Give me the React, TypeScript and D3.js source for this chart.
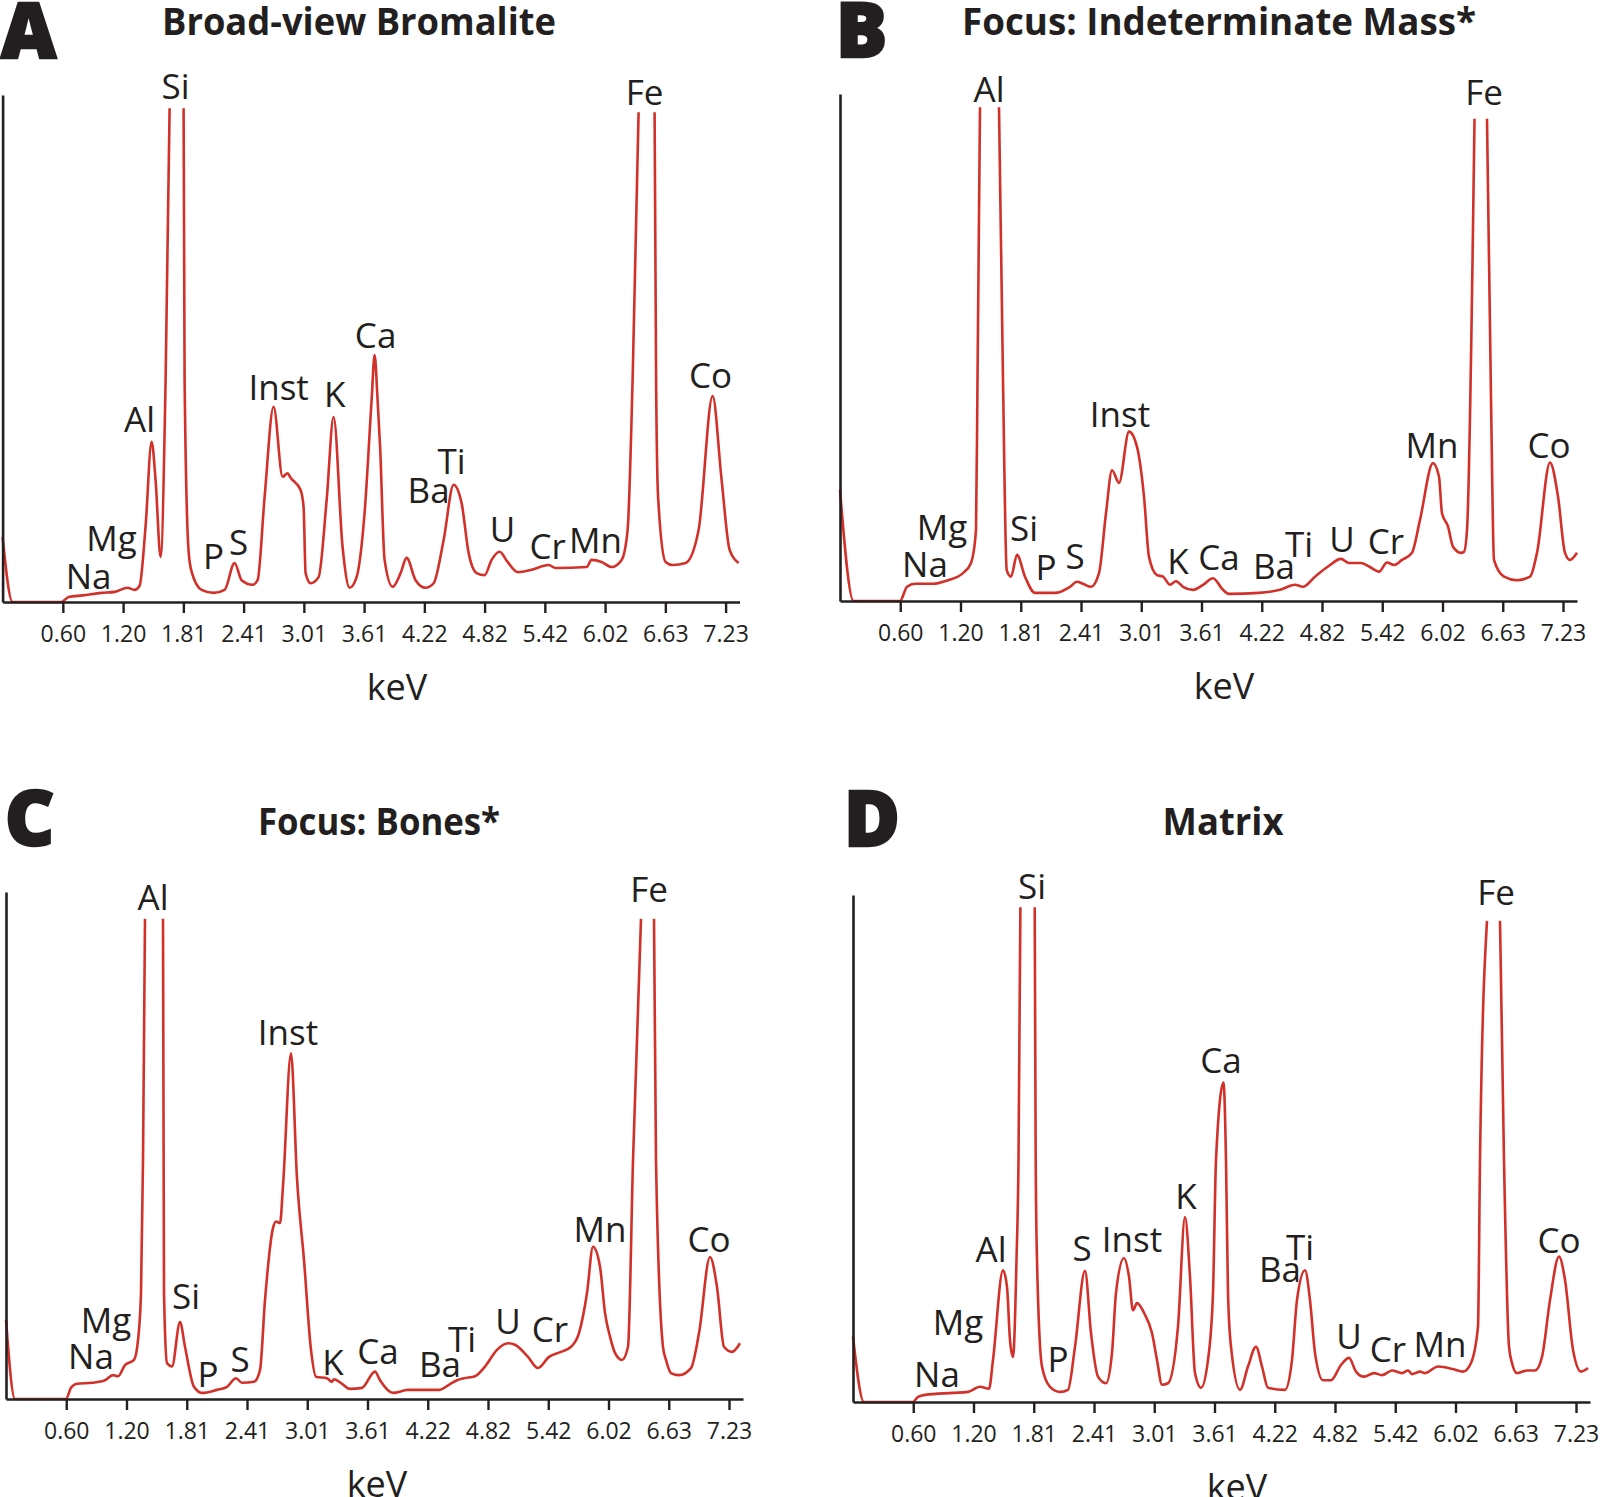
import React, { useEffect, useRef } from 'react';
import * as d3 from 'd3';

type Pt = [number, number | null];
type Label = [string, number, number];

// spectra: [keV, relative intensity (100 = top of y axis)], null = clipped peak top
const spectrumA: Pt[] = [
  [0, 12.8], [0.10, 0], [0.59, 0], [0.66, 1.0], [0.80, 1.3], [0.99, 1.8], [1.12, 2.0], [1.25, 2.8],
  [1.32, 2.4], [1.37, 3.2], [1.43, 15], [1.49, 31.6], [1.53, 24], [1.58, 8.9], [1.63, 43.8], [1.67, 97.4],
  [1.74, null], [1.81, 97.4], [1.82, 43.8], [1.86, 10], [1.89, 6.0], [1.99, 2.4], [2.11, 1.8], [2.22, 2.4],
  [2.32, 7.7], [2.39, 4.3], [2.50, 3.4], [2.55, 4.3], [2.62, 20.7], [2.71, 38.5], [2.80, 24.7], [2.85, 25.4],
  [2.88, 24.5], [2.98, 22.1], [3.01, 18.7], [3.03, 5.7], [3.08, 3.7], [3.16, 4.9], [3.24, 20], [3.31, 36.5],
  [3.40, 10.8], [3.47, 2.8], [3.54, 4.9], [3.62, 17.6], [3.69, 39.8], [3.72, 48.7], [3.75, 39.8], [3.775, 30.6],
  [3.82, 8.3], [3.90, 3.0], [3.98, 5.7], [4.04, 8.7], [4.13, 4.3], [4.23, 2.8], [4.31, 3.7], [4.41, 12.2],
  [4.51, 23.1], [4.59, 19.5], [4.66, 9.7], [4.74, 5.7], [4.82, 5.3], [4.89, 8.3], [4.97, 9.9], [5.05, 7.9],
  [5.15, 5.9], [5.28, 6.3], [5.46, 7.3], [5.53, 6.7], [5.84, 6.9], [5.89, 8.3], [5.99, 7.9], [6.09, 6.9],
  [6.19, 8.3], [6.25, 14.2], [6.30, 43.8], [6.36, 96.6], [6.44, null], [6.52, 96.6], [6.535, 43.8], [6.555, 20.7],
  [6.63, 7.9], [6.70, 7.3], [6.83, 7.7], [6.96, 14.2], [7.10, 40.6], [7.19, 24.1], [7.27, 10.3], [7.36, 7.7],
];

const spectrumB: Pt[] = [
  [0, 21.9], [0.136, 0], [0.60, 0], [0.67, 2.8], [0.75, 3.4], [0.93, 3.4], [1.08, 4.1], [1.23, 5.5],
  [1.31, 7.5], [1.36, 14.0], [1.375, 43.6], [1.40, 97.4], [1.50, null], [1.59, 97.4], [1.63, 43.6], [1.667, 6.1],
  [1.71, 4.8], [1.77, 9.1], [1.85, 4.8], [1.95, 1.6], [2.15, 1.6], [2.30, 2.8], [2.37, 3.8], [2.43, 3.4],
  [2.51, 2.8], [2.59, 5.5], [2.66, 17.3], [2.72, 25.8], [2.79, 23.3], [2.89, 33.4], [2.97, 30.4], [3.04, 20.6],
  [3.09, 8.7], [3.17, 5.1], [3.23, 4.8], [3.30, 3.2], [3.36, 3.9], [3.43, 2.8], [3.53, 2.2], [3.63, 3.2],
  [3.73, 4.5], [3.83, 2.2], [3.89, 1.4], [4.19, 1.6], [4.40, 2.2], [4.55, 3.2], [4.63, 2.8], [4.75, 4.8],
  [4.88, 6.8], [5.01, 8.3], [5.09, 7.5], [5.21, 7.5], [5.29, 6.8], [5.39, 5.8], [5.47, 7.6], [5.54, 7.1],
  [5.62, 8.1], [5.72, 9.5], [5.80, 16.0], [5.93, 27.2], [5.99, 24.5], [6.02, 17.3], [6.08, 14.7], [6.13, 10.7],
  [6.21, 9.5], [6.24, 9.7], [6.27, 14], [6.345, 95.1], [6.41, null], [6.47, 95.1], [6.51, 40], [6.54, 8.1],
  [6.64, 4.8], [6.77, 4.1], [6.90, 4.8], [6.97, 9.5], [7.10, 27.3], [7.18, 20.6], [7.25, 9.5], [7.30, 8.1],
  [7.37, 9.5],
];

const spectrumC: Pt[] = [
  [0, 15.6], [0.09, 0], [0.60, 0], [0.65, 2.2], [0.71, 3.0], [0.86, 3.2], [0.99, 3.7], [1.07, 4.7],
  [1.12, 4.5], [1.19, 6.7], [1.28, 7.7], [1.32, 11.6], [1.35, 20.9], [1.37, 47], [1.39, 94.7], [1.48, null],
  [1.57, 94.7], [1.58, 20.9], [1.61, 7.1], [1.66, 6.4], [1.74, 15.2], [1.79, 10.3], [1.88, 2.4], [1.96, 1.2],
  [2.11, 1.8], [2.21, 2.4], [2.30, 4.1], [2.36, 3.2], [2.48, 3.4], [2.54, 5.7], [2.59, 19.5], [2.67, 33.7],
  [2.70, 35.0], [2.74, 34.7], [2.77, 42], [2.85, 68.2], [2.91, 43.5], [2.98, 27.4], [3.05, 9.7], [3.10, 4.4],
  [3.21, 4.1], [3.26, 3.4], [3.28, 3.9], [3.36, 3.0], [3.44, 2.0], [3.56, 2.2], [3.69, 5.4], [3.74, 3.7],
  [3.87, 1.2], [4.02, 1.8], [4.33, 1.8], [4.43, 2.8], [4.51, 3.7], [4.58, 4.1], [4.69, 4.5], [4.79, 6.4],
  [4.91, 9.7], [5.02, 11.0], [5.09, 10.7], [5.22, 8.3], [5.32, 6.1], [5.43, 8.3], [5.55, 9.3], [5.65, 10.3],
  [5.73, 13.0], [5.81, 20.9], [5.87, 30.0], [5.94, 26.1], [5.99, 17.0], [6.04, 12.3], [6.09, 9.1], [6.16, 7.7],
  [6.22, 10.3], [6.27, 47], [6.35, 94.7], [6.415, null], [6.48, 94.7], [6.50, 47], [6.57, 10.3], [6.60, 7.7],
  [6.65, 5.1], [6.73, 4.7], [6.85, 6.1], [6.93, 13.0], [7.04, 28.0], [7.11, 22.1], [7.18, 10.3], [7.26, 9.3],
  [7.34, 11.0],
];

const spectrumD: Pt[] = [
  [0, 12.9], [0.11, 0], [0.60, 0], [0.65, 1.0], [0.72, 1.4], [1.00, 1.8], [1.15, 2.0], [1.27, 3.0],
  [1.36, 2.6], [1.40, 8.3], [1.50, 26.0], [1.54, 22.7], [1.57, 12.2], [1.60, 8.9], [1.635, 28], [1.655, 47.7],
  [1.674, 97.6], [1.745, null], [1.817, 97.6], [1.827, 47.7], [1.84, 28], [1.89, 7.0], [1.97, 3.0], [2.07, 2.0],
  [2.15, 2.4], [2.22, 10.9], [2.32, 25.9], [2.38, 13.6], [2.45, 5.0], [2.53, 3.7], [2.59, 9.7], [2.63, 21.5],
  [2.71, 28.4], [2.76, 24.7], [2.80, 18.1], [2.84, 19.5], [2.91, 17.6], [2.99, 13.6], [3.04, 8.3], [3.09, 3.4],
  [3.15, 3.7], [3.25, 14.9], [3.32, 36.5], [3.37, 24.7], [3.42, 5.7], [3.48, 2.8], [3.55, 8.3], [3.60, 21.5],
  [3.63, 47.7], [3.705, 63.0], [3.73, 47.7], [3.75, 21.5], [3.78, 10.9], [3.87, 2.4], [3.95, 7.0], [4.03, 10.9],
  [4.09, 7.0], [4.15, 2.8], [4.32, 2.4], [4.39, 8.3], [4.44, 20.1], [4.52, 26.0], [4.57, 20.1], [4.62, 9.7],
  [4.70, 4.3], [4.78, 4.3], [4.88, 7.3], [4.96, 8.7], [5.03, 6.0], [5.11, 5.0], [5.21, 5.7], [5.29, 5.3],
  [5.39, 6.2], [5.49, 5.7], [5.55, 6.2], [5.59, 5.5], [5.67, 6.0], [5.72, 5.7], [5.85, 7.0], [6.00, 6.5],
  [6.10, 6.0], [6.18, 7.7], [6.25, 14.9], [6.27, 47.7], [6.34, 94.9], [6.405, null], [6.47, 94.9], [6.51, 47.7],
  [6.56, 10.9], [6.59, 7.7], [6.64, 5.7], [6.74, 6.2], [6.82, 6.2], [6.89, 8.9], [6.97, 20.1], [7.06, 28.7],
  [7.12, 24.1], [7.20, 10.3], [7.28, 6.0], [7.35, 6.7],
];

// peak labels: [element, keV, intensity of text baseline]
const labelsA: Label[] = [
  ['Na', 0.86, 2.6], ['Mg', 1.09, 10.1], ['Al', 1.37, 33.5], ['Si', 1.73, 99.2], ['P', 2.11, 6.5],
  ['S', 2.36, 9.3], ['Inst', 2.76, 39.8], ['K', 3.32, 38.5], ['Ca', 3.73, 50.1], ['Ba', 4.26, 19.5],
  ['Ti', 4.49, 25.2], ['U', 5.00, 11.8], ['Cr', 5.45, 8.5], ['Mn', 5.93, 9.7], ['Fe', 6.42, 98.0],
  ['Co', 7.08, 42.2],
];
const labelsB: Label[] = [
  ['Na', 0.85, 4.7], ['Mg', 1.02, 12.0], ['Al', 1.49, 98.4], ['Si', 1.84, 11.8], ['P', 2.06, 4.1],
  ['S', 2.35, 6.3], ['Inst', 2.80, 34.3], ['K', 3.38, 5.3], ['Ca', 3.79, 6.1], ['Ba', 4.34, 4.3],
  ['Ti', 4.59, 8.7], ['U', 5.02, 9.7], ['Cr', 5.46, 9.3], ['Mn', 5.92, 28.2], ['Fe', 6.44, 97.8],
  ['Co', 7.09, 28.2],
];
const labelsC: Label[] = [
  ['Na', 0.85, 6.0], ['Mg', 1.00, 13.0], ['Al', 1.47, 96.4], ['Si', 1.80, 17.8], ['P', 2.02, 2.4],
  ['S', 2.34, 5.3], ['Inst', 2.82, 69.8], ['K', 3.27, 4.7], ['Ca', 3.72, 7.0], ['Ba', 4.34, 4.3],
  ['Ti', 4.56, 9.3], ['U', 5.02, 12.9], ['Cr', 5.44, 11.2], ['Mn', 5.94, 31.0], ['Fe', 6.43, 98.0],
  ['Co', 7.03, 29.0],
];
const labelsD: Label[] = [
  ['Na', 0.84, 3.0], ['Mg', 1.05, 13.3], ['Al', 1.38, 27.6], ['Si', 1.79, 99.3], ['P', 2.05, 5.9],
  ['S', 2.29, 27.8], ['Inst', 2.79, 29.6], ['K', 3.33, 38.1], ['Ca', 3.68, 64.8], ['Ba', 4.27, 23.7],
  ['Ti', 4.47, 28.0], ['U', 4.96, 10.5], ['Cr', 5.35, 7.9], ['Mn', 5.87, 8.9], ['Fe', 6.43, 98.0],
  ['Co', 7.06, 29.3],
];

const tickKeV = [0.6025, 1.205, 1.8075, 2.41, 3.0125, 3.615, 4.2175, 4.82, 5.4225, 6.025, 6.6275, 7.23];
const tickLabels = ['0.60', '1.20', '1.81', '2.41', '3.01', '3.61', '4.22', '4.82', '5.42', '6.02', '6.63', '7.23'];

const panelLetters = ['A', 'B', 'C', 'D'];
const panelTitles = ['Broad-view Bromalite', 'Focus: Indeterminate Mass*', 'Focus: Bones*', 'Matrix'];
const spectra = [spectrumA, spectrumB, spectrumC, spectrumD];
const labels = [labelsA, labelsB, labelsC, labelsD];

// panel placement in page pixels
const layout = [
  { ox: 2.6, oy: 602, titleX: 359, titleW: 394, titleY: 35, letterX: 1, letterY: 58, kevX: 397 },
  { ox: 840, oy: 601, titleX: 1219, titleW: 514, titleY: 35, letterX: 836, letterY: 57, kevX: 1224 },
  { ox: 6, oy: 1399, titleX: 379, titleW: 242, titleY: 835, letterX: 5, letterY: 845, kevX: 377 },
  { ox: 853, oy: 1402, titleX: 1223, titleW: 121, titleY: 835, letterX: 844, letterY: 846, kevX: 1237 },
];

const WIDTH = 1600;
const HEIGHT = 1497;
const PLOT_W = 737;
const PLOT_H = 507;
const RED = '#d2312a';
const INK = '#231f20';
const FONT = '"Open Sans", "Noto Sans", sans-serif';

const App: React.FC = () => {
  const svgRef = useRef<SVGSVGElement>(null);

  useEffect(() => {
    if (!svgRef.current) return;
    const svg = d3.select(svgRef.current);
    svg.selectAll('*').remove();

    const x = d3.scaleLinear().domain([0, 7.37]).range([0, PLOT_W]);
    const y = d3.scaleLinear().domain([0, 100]).range([PLOT_H, 0]);

    const line = d3.line<Pt>()
      .defined(d => d[1] !== null)
      .x(d => x(d[0]))
      .y(d => y(d[1] as number))
      .curve(d3.curveMonotoneX);

    layout.forEach((p, i) => {
      // panel letter and title
      svg.append('text')
        .attr('x', p.letterX)
        .attr('y', p.letterY)
        .style('font-family', FONT)
        .style('font-size', '76px')
        .style('font-weight', 800)
        .style('fill', INK)
        .style('stroke', INK)
        .style('stroke-width', 2.5)
        .text(panelLetters[i]);

      svg.append('text')
        .attr('x', p.titleX - p.titleW / 2)
        .attr('y', p.titleY)
        .attr('textLength', p.titleW)
        .attr('lengthAdjust', 'spacingAndGlyphs')
        .style('font-family', FONT)
        .style('font-size', '37px')
        .style('font-weight', 700)
        .style('fill', INK)
        .text(panelTitles[i]);

      const g = svg.append('g')
        .attr('transform', `translate(${p.ox}, ${p.oy - PLOT_H})`);

      // spectrum
      g.append('path')
        .datum(spectra[i])
        .attr('d', line)
        .attr('fill', 'none')
        .attr('stroke', RED)
        .attr('stroke-width', 2.6)
        .attr('stroke-linejoin', 'round');

      // axes
      const xAxis = d3.axisBottom(x)
        .tickValues(tickKeV)
        .tickFormat((_d, j) => tickLabels[j])
        .tickSize(11)
        .tickSizeOuter(0)
        .tickPadding(13);
      const xg = g.append('g')
        .attr('transform', `translate(0, ${PLOT_H})`)
        .call(xAxis);
      xg.select('.domain').attr('stroke', INK).attr('stroke-width', 2.6);
      xg.selectAll('.tick line').attr('stroke', INK).attr('stroke-width', 2.4);
      xg.selectAll('.tick text')
        .style('font-family', FONT)
        .style('font-size', '23px')
        .attr('fill', INK);

      const yg = g.append('g').call(d3.axisLeft(y).tickValues([]).tickSizeOuter(0));
      yg.select('.domain').attr('stroke', INK).attr('stroke-width', 2.6);

      // peak labels
      g.selectAll('.peak-label')
        .data(labels[i])
        .enter().append('text')
        .attr('class', 'peak-label')
        .attr('x', d => x(d[1]))
        .attr('y', d => y(d[2]))
        .style('text-anchor', 'middle')
        .style('font-family', FONT)
        .style('font-size', '35px')
        .style('fill', INK)
        .text(d => d[0]);

      // axis title
      svg.append('text')
        .attr('x', p.kevX)
        .attr('y', p.oy + 98)
        .style('text-anchor', 'middle')
        .style('font-family', FONT)
        .style('font-size', '36px')
        .style('fill', INK)
        .text('keV');
    });
  }, []);

  return (
    <svg
      ref={svgRef}
      width={WIDTH}
      height={HEIGHT}
      style={{ position: 'absolute', left: 0, top: 0, background: '#fff', display: 'block' }}
    />
  );
};

export default App;
